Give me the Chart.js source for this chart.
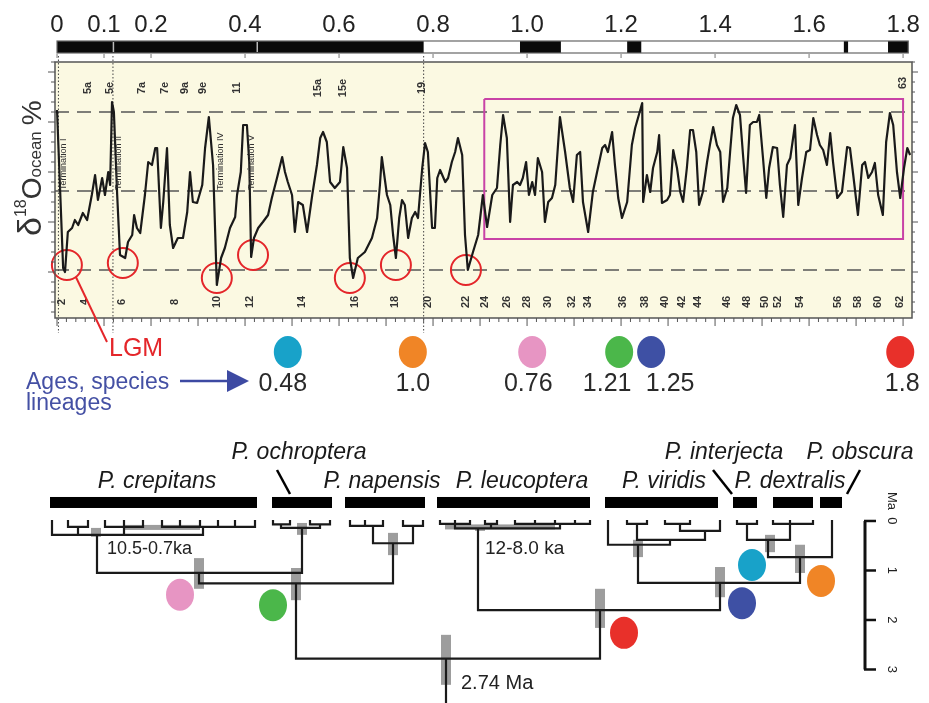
<!DOCTYPE html>
<html>
<head>
<meta charset="utf-8">
<script src="https://cdn.jsdelivr.net/npm/chart.js@4"></script>
<style>
html, body { margin: 0; padding: 0; background: #fff; overflow: hidden; }
#wrap { position: relative; width: 929px; height: 703px; }
#top { position: absolute; left: 0; top: 0; }
#tree { position: absolute; left: 0; top: 420px; }
</style>
</head>
<body>
<div id="wrap">
  <canvas id="top" width="929" height="420"></canvas>
  <canvas id="tree" width="929" height="283"></canvas>
</div>
<script>
// ---------- top panel: benthic d18O stack, age in Ma ----------
const ageTicks = [0, 0.1, 0.2, 0.4, 0.6, 0.8, 1.0, 1.2, 1.4, 1.6, 1.8];
const ageTickLabels = ["0", "0.1", "0.2", "0.4", "0.6", "0.8", "1.0", "1.2", "1.4", "1.6", "1.8"];

// polarity bar (black = normal)
const normalFrom = [0, 0.985, 1.213, 1.674, 1.768];
const normalTo = [0.78, 1.072, 1.243, 1.683, 1.811];
const chronBreaks = [0.12, 0.426];
const polarityEnd = 1.811;

const d18oAges = [
  0, 0.013, 0.017, 0.023, 0.032, 0.038, 0.045, 0.055, 0.064, 0.074,
  0.081, 0.087, 0.096, 0.102, 0.109, 0.113, 0.117, 0.121, 0.128, 0.134,
  0.145, 0.151, 0.160, 0.164, 0.170, 0.177, 0.187, 0.194, 0.202, 0.209,
  0.213, 0.221, 0.226, 0.234, 0.240, 0.247, 0.257, 0.268, 0.277, 0.283,
  0.289, 0.298, 0.309, 0.315, 0.323, 0.332, 0.340, 0.349, 0.357, 0.368,
  0.379, 0.383, 0.391, 0.396, 0.404, 0.409, 0.413, 0.419, 0.428, 0.438,
  0.449, 0.457, 0.468, 0.479, 0.485, 0.491, 0.500, 0.506, 0.513, 0.523,
  0.532, 0.543, 0.553, 0.560, 0.566, 0.574, 0.581, 0.591, 0.602, 0.609,
  0.617, 0.623, 0.630, 0.640, 0.655, 0.670, 0.681, 0.687, 0.691, 0.702,
  0.709, 0.715, 0.721, 0.728, 0.734, 0.740, 0.747, 0.755, 0.762, 0.768,
  0.777, 0.783, 0.789, 0.798, 0.804, 0.809, 0.815, 0.826, 0.832, 0.840,
  0.847, 0.853, 0.862, 0.868, 0.874, 0.885, 0.896, 0.906, 0.915, 0.926,
  0.936, 0.943, 0.949, 0.957, 0.964, 0.970, 0.979, 0.985, 0.991, 0.998,
  1.004, 1.011, 1.017, 1.023, 1.032, 1.038, 1.045, 1.053, 1.060, 1.070,
  1.081, 1.091, 1.098, 1.106, 1.113, 1.119, 1.130, 1.140, 1.149, 1.160,
  1.166, 1.172, 1.181, 1.187, 1.194, 1.202, 1.213, 1.223, 1.230, 1.236,
  1.245, 1.247, 1.255, 1.262, 1.268, 1.277, 1.281, 1.287, 1.298, 1.304,
  1.311, 1.319, 1.326, 1.332, 1.340, 1.347, 1.353, 1.360, 1.366, 1.374,
  1.383, 1.389, 1.396, 1.404, 1.411, 1.417, 1.426, 1.432, 1.438, 1.445,
  1.453, 1.460, 1.466, 1.474, 1.481, 1.489, 1.494, 1.502, 1.509, 1.515,
  1.523, 1.532, 1.538, 1.545, 1.553, 1.560, 1.570, 1.577, 1.585, 1.594,
  1.602, 1.609, 1.617, 1.623, 1.630, 1.638, 1.645, 1.651, 1.660, 1.670,
  1.681, 1.687, 1.694, 1.704, 1.713, 1.719, 1.726, 1.734, 1.740, 1.747,
  1.757, 1.764, 1.772, 1.779, 1.787, 1.794, 1.802, 1.809, 1.815
];
const d18oValues = [
  3.38, 4.96, 5.00, 4.60, 4.56, 4.48, 4.53, 4.41, 4.48, 4.23,
  4.03, 4.28, 4.06, 4.23, 4.00, 4.13, 3.30, 3.40, 4.23, 4.83,
  4.86, 4.70, 4.63, 4.43, 4.56, 4.61, 4.23, 3.90, 3.93, 3.76,
  3.76, 4.56, 4.30, 3.76, 4.53, 4.76, 4.66, 4.66, 4.40, 4.00,
  4.30, 4.31, 4.13, 3.76, 3.45, 3.93, 5.13, 4.86, 4.76, 4.56,
  4.45, 4.23, 4.00, 3.53, 3.53, 3.90, 4.85, 4.66, 4.56, 4.50,
  4.43, 4.26, 4.06, 3.85, 4.00, 4.10, 4.23, 4.60, 4.30, 4.33,
  4.60, 4.23, 3.93, 3.66, 3.60, 3.70, 4.10, 4.16, 4.10, 3.75,
  3.96, 4.86, 5.06, 4.86, 4.80, 4.66, 4.46, 4.13, 3.85, 4.23,
  4.33, 4.63, 4.86, 4.46, 4.28, 4.33, 4.66, 4.46, 4.40, 4.46,
  3.96, 3.71, 3.80, 4.56, 4.56, 4.06, 3.98, 4.10, 4.06, 3.90,
  3.80, 3.66, 3.83, 4.63, 4.98, 4.80, 4.63, 4.23, 4.55, 4.23,
  4.16, 3.73, 3.43, 3.66, 4.50, 4.13, 4.10, 4.13, 4.06, 3.90,
  4.23, 4.10, 4.23, 3.86, 4.00, 4.50, 4.30, 4.26, 4.13, 3.45,
  3.80, 4.16, 4.30, 3.83, 3.80, 4.30, 4.60, 4.20, 4.00, 3.76,
  3.73, 3.80, 3.60, 3.93, 4.26, 4.46, 4.30, 3.73, 3.56, 3.46,
  3.31, 4.30, 4.03, 4.20, 3.96, 3.80, 3.63, 4.31, 4.28, 4.23,
  3.78, 3.96, 4.20, 4.30, 3.96, 3.58, 3.58, 3.80, 4.33, 4.20,
  3.90, 3.73, 3.55, 3.73, 3.80, 4.30, 4.16, 3.80, 3.46, 3.33,
  3.43, 3.86, 4.21, 3.53, 3.50, 3.50, 3.43, 3.86, 4.26, 3.96,
  3.75, 3.76, 4.13, 4.45, 3.93, 3.86, 3.53, 4.33, 4.06, 3.80,
  3.78, 3.46, 3.63, 3.73, 3.78, 3.93, 3.61, 3.90, 4.26, 4.20,
  3.75, 3.76, 4.03, 4.43, 3.93, 3.90, 4.06, 4.00, 3.91, 4.23,
  4.43, 3.70, 3.41, 3.53, 4.00, 4.26, 3.96, 3.76, 3.83
];

const refLevels = [3.40, 4.19, 4.98];
const dottedAges = [0.003, 0.119, 0.78];

// 41-kyr world box
const boxAges = [0.909, 1.800, 1.800, 0.909, 0.909];
const boxValues = [3.27, 3.27, 4.67, 4.67, 3.27];

// glacial maxima circled
const lgmAges = [0.021, 0.140, 0.340, 0.417, 0.623, 0.721, 0.870];
const lgmValues = [4.93, 4.91, 5.06, 4.83, 5.06, 4.93, 4.98];

const misTopLabels = ["5a", "5e", "7a", "7e", "9a", "9e", "11", "15a", "15e", "19", "63"];
const misTopAges = [0.066, 0.113, 0.181, 0.230, 0.272, 0.311, 0.383, 0.555, 0.609, 0.777, 1.800];
const misBottomLabels = ["2", "4", "6", "8", "10", "12", "14", "16", "18", "20", "22", "24", "26", "28", "30",
  "32", "34", "36", "38", "40", "42", "44", "46", "48", "50", "52", "54", "56", "58", "60", "62"];
const misBottomAges = [0.011, 0.060, 0.138, 0.251, 0.340, 0.411, 0.521, 0.634, 0.719, 0.789, 0.870, 0.911,
  0.957, 1.000, 1.045, 1.096, 1.130, 1.204, 1.251, 1.294, 1.330, 1.364, 1.426, 1.468, 1.506, 1.534,
  1.581, 1.662, 1.704, 1.747, 1.794];
const terminationLabels = ["Termination I", "Termination II", "Termination IV", "Termination V"];
const terminationAges = [0.013, 0.130, 0.347, 0.413];

// lineage ages shown under the curve
const lineageColors = ["#18a2c9", "#f08526", "#e795c3", "#4bb74a", "#3e50a4", "#e8302a"];
const lineageDotAges = [0.491, 0.757, 1.011, 1.196, 1.264, 1.794];
const lineageLabels = ["0.48", "1.0", "0.76", "1.21", "1.25", "1.8"];
const lineageLabelShift = [-5, 0, -4, -12, 19, 2];

// ---------- bottom panel: phylogeny, node ages in Ma ----------
const speciesNames = ["P. crepitans", "P. ochroptera", "P. napensis", "P. leucoptera",
  "P. viridis", "P. interjecta", "P. dextralis", "P. obscura"];
const speciesBarFrom = [50, 272, 345, 437, 605, 733, 773, 820];
const speciesBarTo = [257, 332, 425, 590, 718, 757, 813, 842];
const speciesLabelX = [157, 299, 382, 522, 664, 724, 790, 860];
const speciesLabelRow = [0, 1, 0, 0, 0, 1, 0, 1];
const leaderSpecies = [1, 5, 7];
const leaderTopX = [277, 713, 860];
const leaderBottomX = [290, 732, 847];

const T = (age, x, kids) => ({ age, x, kids });
const crepitans = T(0.28, 97, [52, T(0.12, 78, [68, 88]), T(0.12, 124, [105, 124, 143]),
  T(0.12, 203, [162, 180, 200, 218, 235, 255])]);
const ochroptera = T(0.14, 302, [T(0.07, 281, [273, 290]), T(0.07, 320, [310, 330])]);
const napensis = T(0.45, 393, [T(0.10, 373, [350, 365, 383]), T(0.10, 413, [403, 423])]);
const leucoptera = T(0.15, 478, [T(0.06, 455, [440, 455, 470]), T(0.06, 491, [485, 497]),
  T(0.06, 560, [515, 535, 555, 575, 590])]);
const viridis = T(0.48, 638, [608, T(0.38, 670, [T(0.06, 637, [627, 647]),
  T(0.20, 705, [T(0.06, 680, [665, 690]), 720])])]);
const interjecta = T(0.06, 747, [737, 757]);
const dextralis = T(0.06, 790, [773, 790, 813]);
const obscuraTip = 832;
const treeRoot = T(2.78, 446, [
  T(1.26, 296, [T(1.05, 199, [crepitans, ochroptera]), napensis]),
  T(1.80, 600, [leucoptera, T(1.25, 720, [viridis, T(0.73, 800, [T(0.38, 768, [interjecta, dextralis]), obscuraTip])])])
]);
const rootStemEnd = 3.7;

// node age uncertainty bars
const hpdX = [96, 302, 393, 199, 296, 446, 600, 720, 800, 770, 638, 480];
const hpdFrom = [0.14, 0.04, 0.24, 0.75, 0.95, 2.30, 1.37, 0.93, 0.48, 0.28, 0.38, 0.08];
const hpdTo = [0.32, 0.28, 0.69, 1.37, 1.60, 3.31, 2.16, 1.54, 1.05, 0.63, 0.73, 0.20];
const recentFrom = [125, 445];
const recentTo = [200, 555];
const recentAge = [0.13, 0.12];

const treeDotX = [180, 273, 624, 742, 752, 821];
const treeDotAge = [1.49, 1.70, 2.26, 1.66, 0.89, 1.21];
const treeDotColors = ["#e795c3", "#4bb74a", "#e8302a", "#3e50a4", "#18a2c9", "#f08526"];

const treeNotes = ["10.5-0.7ka", "12-8.0 ka", "2.74 Ma"];
const treeNoteX = [107, 485, 461];
const treeNoteAge = [0.57, 0.57, 3.29];

const scaleBarX = 865;
const scaleBarTicks = [0, 1, 2, 3];

const FONT = '"Liberation Sans", Arial, sans-serif';

function blob(ctx, x, y, color) {
  ctx.beginPath();
  ctx.ellipse(x, y, 14, 16, 0, 0, Math.PI * 2);
  ctx.fillStyle = color;
  ctx.fill();
}

function turnedText(ctx, s, x, y, ang, align) {
  ctx.save();
  ctx.translate(x, y);
  ctx.rotate(ang);
  ctx.textAlign = align || "center";
  ctx.textBaseline = "middle";
  ctx.fillText(s, 0, 0);
  ctx.restore();
}

// --------------------
// TOP DECORATIONS
// --------------------
const topDecor = {
  id: "topDecor",
  beforeDraw(chart) {
    const { ctx, chartArea: a } = chart;
    ctx.save();
    ctx.fillStyle = "#fbf9e2";
    ctx.fillRect(a.left, a.top, a.right - a.left, a.bottom - a.top);
    ctx.restore();
  },
  beforeDatasetsDraw(chart) {
    const { ctx, chartArea: a } = chart;
    const X = v => chart.scales.x.getPixelForValue(v);
    const Y = v => chart.scales.y.getPixelForValue(v);
    ctx.save();
    ctx.strokeStyle = "#555";
    ctx.lineWidth = 1.6;
    ctx.setLineDash([14, 8]);
    refLevels.forEach(v => {
      ctx.beginPath();
      ctx.moveTo(a.left, Y(v));
      ctx.lineTo(a.right, Y(v));
      ctx.stroke();
    });
    ctx.lineWidth = 1;
    ctx.strokeStyle = "#444";
    ctx.setLineDash([1.5, 2]);
    dottedAges.forEach(t => {
      ctx.beginPath();
      ctx.moveTo(X(t), 56);
      ctx.lineTo(X(t), 333);
      ctx.stroke();
    });
    ctx.restore();
  },
  afterDraw(chart) {
    const { ctx, chartArea: a } = chart;
    const X = v => chart.scales.x.getPixelForValue(v);
    const Y = v => chart.scales.y.getPixelForValue(v);
    ctx.save();

    // frame and rulers
    ctx.strokeStyle = "#555";
    ctx.lineWidth = 1.5;
    ctx.strokeRect(a.left, a.top, a.right - a.left, a.bottom - a.top);
    ctx.lineWidth = 1;
    for (let v = 2.9; v <= 5.46; v += 0.1) {
      const big = Math.abs(v * 2 - Math.round(v * 2)) < 0.01;
      ctx.beginPath();
      ctx.moveTo(a.left - (big ? 7 : 4), Y(v));
      ctx.lineTo(a.left, Y(v));
      ctx.moveTo(a.right, Y(v));
      ctx.lineTo(a.right + (big ? 6 : 3), Y(v));
      ctx.stroke();
    }
    for (let i = 0; i <= 90; i++) {
      const t = i * 0.02;
      const big = i % 5 === 0;
      ctx.beginPath();
      ctx.moveTo(X(t), a.bottom);
      ctx.lineTo(X(t), a.bottom + (big ? 8 : 4));
      ctx.stroke();
    }

    // polarity bar
    ctx.fillStyle = "#fff";
    ctx.fillRect(X(0), 41, X(polarityEnd) - X(0), 12);
    ctx.fillStyle = "#0a0a0a";
    normalFrom.forEach((f, i) => ctx.fillRect(X(f), 41, X(normalTo[i]) - X(f), 12));
    ctx.strokeStyle = "#666";
    ctx.lineWidth = 1.2;
    ctx.strokeRect(X(0), 41, X(polarityEnd) - X(0), 12);
    ctx.strokeStyle = "#bbb";
    ctx.lineWidth = 1.5;
    chronBreaks.forEach(t => {
      ctx.beginPath();
      ctx.moveTo(X(t), 42);
      ctx.lineTo(X(t), 52);
      ctx.stroke();
    });
    ctx.strokeStyle = "#777";
    ctx.lineWidth = 1;
    ageTicks.forEach(t => {
      ctx.beginPath();
      ctx.moveTo(X(t), 54);
      ctx.lineTo(X(t), 58);
      ctx.stroke();
    });

    // age tick labels
    ctx.fillStyle = "#222";
    ctx.font = "24px " + FONT;
    ctx.textAlign = "center";
    ctx.textBaseline = "middle";
    ageTicks.forEach((t, i) => ctx.fillText(ageTickLabels[i], X(t), 25));

    // MIS numbers
    ctx.fillStyle = "#333";
    ctx.font = "bold 11px " + FONT;
    misTopLabels.forEach((s, i) => turnedText(ctx, s, X(misTopAges[i]), i === misTopLabels.length - 1 ? 83 : 88, -Math.PI / 2));
    misBottomLabels.forEach((s, i) => turnedText(ctx, s, X(misBottomAges[i]), 302, -Math.PI / 2));
    ctx.font = "9px " + FONT;
    terminationLabels.forEach((s, i) => turnedText(ctx, s, X(terminationAges[i]), 190, -Math.PI / 2, "left"));

    // y title
    ctx.save();
    ctx.translate(41, 236);
    ctx.rotate(-Math.PI / 2);
    ctx.textAlign = "left";
    ctx.textBaseline = "alphabetic";
    ctx.fillStyle = "#333";
    let cx = 0;
    const piece = (s, size, dy) => {
      ctx.font = size + "px " + FONT;
      ctx.fillText(s, cx, dy);
      cx += ctx.measureText(s).width;
    };
    piece("\u03b4", 34, 0);
    piece("18", 16, -15);
    piece("O", 28, 0);
    piece("ocean", 17, 0);
    cx += 6;
    piece("%", 28, 0);
    ctx.restore();

    // LGM pointer
    const c0x = X(lgmAges[0]), c0y = Y(lgmValues[0]);
    ctx.strokeStyle = "#e4262a";
    ctx.lineWidth = 2;
    ctx.beginPath();
    ctx.moveTo(c0x + 9, c0y + 12);
    ctx.lineTo(107, 342);
    ctx.stroke();
    ctx.fillStyle = "#e4262a";
    ctx.font = "25px " + FONT;
    ctx.textAlign = "left";
    ctx.textBaseline = "middle";
    ctx.fillText("LGM", 109, 349);

    // lineage dots
    lineageDotAges.forEach((t, i) => blob(ctx, X(t), 352, lineageColors[i]));
    ctx.fillStyle = "#2a2a2a";
    ctx.font = "25px " + FONT;
    ctx.textAlign = "center";
    lineageDotAges.forEach((t, i) => ctx.fillText(lineageLabels[i], X(t) + lineageLabelShift[i], 384));

    // blue caption + arrow
    ctx.fillStyle = "#4450a4";
    ctx.font = "23px " + FONT;
    ctx.textAlign = "left";
    ctx.textBaseline = "alphabetic";
    ctx.fillText("Ages, species", 26, 389);
    ctx.fillText("lineages", 26, 410);
    ctx.strokeStyle = "#3d4aa2";
    ctx.fillStyle = "#3d4aa2";
    ctx.lineWidth = 2.5;
    ctx.beginPath();
    ctx.moveTo(180, 381);
    ctx.lineTo(232, 381);
    ctx.stroke();
    ctx.beginPath();
    ctx.moveTo(227, 370);
    ctx.lineTo(249, 381);
    ctx.lineTo(227, 392);
    ctx.closePath();
    ctx.fill();

    ctx.restore();
  }
};

new Chart(document.getElementById("top"), {
  type: "scatter",
  data: {
    datasets: [
      {
        data: d18oAges.map((t, i) => ({ x: t, y: d18oValues[i] })),
        showLine: true,
        borderColor: "#1a1a1a",
        borderWidth: 2.2,
        borderJoinStyle: "round",
        pointRadius: 0,
        tension: 0
      },
      {
        data: boxAges.map((t, i) => ({ x: t, y: boxValues[i] })),
        showLine: true,
        borderColor: "#c843a6",
        borderWidth: 2,
        pointRadius: 0
      },
      {
        data: lgmAges.map((t, i) => ({ x: t, y: lgmValues[i] })),
        showLine: false,
        pointRadius: 15,
        pointBorderWidth: 2,
        pointBorderColor: "#e4262a",
        pointBackgroundColor: "rgba(0,0,0,0)",
        clip: false
      }
    ]
  },
  options: {
    responsive: false,
    animation: false,
    events: [],
    layout: { padding: { left: 55, right: 17, top: 62, bottom: 102 } },
    scales: {
      x: { type: "linear", min: -0.0043, max: 1.819, display: false },
      y: { type: "linear", min: 2.90, max: 5.46, reverse: true, display: false }
    },
    plugins: { legend: { display: false }, tooltip: { enabled: false } }
  },
  plugins: [topDecor]
});

// --------------------
// TREE
// --------------------
function collectBranches(node, out) {
  if (typeof node === "number") return;
  const xs = node.kids.map(k => (typeof k === "number" ? k : k.x));
  out.push([Math.min(...xs), node.age, Math.max(...xs), node.age]);
  node.kids.forEach(k => {
    const kx = typeof k === "number" ? k : k.x;
    const ka = typeof k === "number" ? 0 : k.age;
    out.push([kx, ka, kx, node.age]);
    collectBranches(k, out);
  });
}
const branches = [];
collectBranches(treeRoot, branches);
branches.push([treeRoot.x, treeRoot.age, treeRoot.x, rootStemEnd]);
const branchPoints = [];
branches.forEach(b => {
  branchPoints.push({ x: b[0], y: b[1] }, { x: b[2], y: b[3] }, { x: b[2], y: null });
});

const treeDecor = {
  id: "treeDecor",
  beforeDatasetsDraw(chart) {
    const { ctx } = chart;
    const X = v => chart.scales.x.getPixelForValue(v);
    const Y = v => chart.scales.y.getPixelForValue(v);
    ctx.save();
    ctx.fillStyle = "#9d9d9d";
    hpdX.forEach((x, i) => ctx.fillRect(X(x) - 5, Y(hpdFrom[i]), 10, Y(hpdTo[i]) - Y(hpdFrom[i])));
    recentFrom.forEach((x, i) => ctx.fillRect(X(x), Y(recentAge[i]) - 2.5, X(recentTo[i]) - X(x), 5));
    ctx.restore();
  },
  afterDraw(chart) {
    const { ctx } = chart;
    const X = v => chart.scales.x.getPixelForValue(v);
    const Y = v => chart.scales.y.getPixelForValue(v);
    const y0 = Y(0);
    ctx.save();

    // species bars and names
    ctx.fillStyle = "#000";
    speciesBarFrom.forEach((f, i) => ctx.fillRect(X(f), y0 - 24, X(speciesBarTo[i]) - X(f), 11));
    ctx.fillStyle = "#1a1a1a";
    ctx.font = "italic 23px " + FONT;
    ctx.textAlign = "center";
    ctx.textBaseline = "middle";
    speciesNames.forEach((s, i) => ctx.fillText(s, X(speciesLabelX[i]), speciesLabelRow[i] ? y0 - 68 : y0 - 39));
    ctx.strokeStyle = "#000";
    ctx.lineWidth = 2.5;
    leaderSpecies.forEach((s, i) => {
      ctx.beginPath();
      ctx.moveTo(X(leaderTopX[i]), y0 - 51);
      ctx.lineTo(X(leaderBottomX[i]), y0 - 27);
      ctx.stroke();
    });

    // notes
    ctx.fillStyle = "#222";
    ctx.textAlign = "left";
    ctx.font = "18px " + FONT;
    ctx.fillText(treeNotes[0], X(treeNoteX[0]), Y(treeNoteAge[0]));
    ctx.font = "19px " + FONT;
    ctx.fillText(treeNotes[1], X(treeNoteX[1]), Y(treeNoteAge[1]));
    ctx.font = "20px " + FONT;
    ctx.fillText(treeNotes[2], X(treeNoteX[2]), Y(treeNoteAge[2]));

    // dots
    treeDotX.forEach((x, i) => blob(ctx, X(x), Y(treeDotAge[i]), treeDotColors[i]));

    // time scale bar
    ctx.strokeStyle = "#111";
    ctx.lineWidth = 3;
    ctx.beginPath();
    ctx.moveTo(X(scaleBarX), Y(0));
    ctx.lineTo(X(scaleBarX), Y(3));
    ctx.stroke();
    ctx.lineWidth = 2.5;
    ctx.fillStyle = "#222";
    ctx.font = "13px " + FONT;
    scaleBarTicks.forEach(t => {
      ctx.beginPath();
      ctx.moveTo(X(scaleBarX) - 1, Y(t));
      ctx.lineTo(X(scaleBarX) + 11, Y(t));
      ctx.stroke();
      turnedText(ctx, String(t), X(scaleBarX) + 27, Y(t), Math.PI / 2);
    });
    turnedText(ctx, "Ma", X(scaleBarX) + 27, y0 - 20, Math.PI / 2);

    ctx.restore();
  }
};

new Chart(document.getElementById("tree"), {
  type: "scatter",
  data: {
    datasets: [{
      data: branchPoints,
      showLine: true,
      spanGaps: false,
      borderColor: "#1a1a1a",
      borderWidth: 2.2,
      borderCapStyle: "square",
      pointRadius: 0
    }]
  },
  options: {
    responsive: false,
    animation: false,
    events: [],
    layout: { padding: 0 },
    scales: {
      x: { type: "linear", min: 0, max: 929, display: false },
      y: { type: "linear", min: -2.04, max: 3.677, reverse: true, display: false }
    },
    plugins: { legend: { display: false }, tooltip: { enabled: false } }
  },
  plugins: [treeDecor]
});
</script>
</body>
</html>
